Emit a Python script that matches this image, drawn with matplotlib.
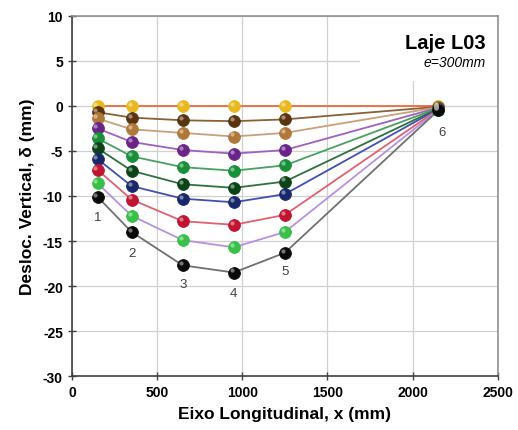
import numpy as np
import matplotlib
matplotlib.use('Agg')
import matplotlib.pyplot as plt
import matplotlib.transforms as mtransforms
from matplotlib.colors import to_rgb
from matplotlib.patches import Rectangle

plt.rcParams['font.family'] = ['Liberation Sans', 'DejaVu Sans']
plt.rcParams['axes.unicode_minus'] = False

# Posicoes dos pontos de medicao (mm)
x_pts = [150, 350, 650, 950, 1250, 2150]

# Deslocamentos por etapa de carga (mm)
d_etapas = [
    [0.0, 0.0, 0.0, 0.0, 0.0, 0.0],
    [-0.7, -1.3, -1.6, -1.7, -1.5, -0.1],
    [-1.4, -2.6, -3.0, -3.4, -3.0, -0.15],
    [-2.5, -4.0, -4.9, -5.3, -4.9, -0.2],
    [-3.6, -5.6, -6.8, -7.2, -6.6, -0.25],
    [-4.7, -7.2, -8.7, -9.1, -8.4, -0.3],
    [-5.9, -8.9, -10.3, -10.7, -9.8, -0.35],
    [-7.1, -10.4, -12.8, -13.2, -12.1, -0.4],
    [-8.6, -12.2, -14.9, -15.7, -14.0, -0.45],
    [-10.1, -14.0, -17.7, -18.5, -16.3, -0.5],
]

cores_linha = ['#ee6a3c', '#8a6038', '#c8a07a', '#a060c0', '#4aa060', '#2e7040',
               '#4050b0', '#e06070', '#b890e0', '#707070']
cores_marca = ['#e8b820', '#5a3410', '#b07838', '#6a2488', '#189038', '#0c4418',
               '#18286a', '#c01430', '#38c048', '#0a0a0a']

# Rotulos dos pontos
rot_txt = ['1', '2', '3', '4', '5', '6']
rot_x = [150, 350, 650, 950, 1250, 2170]
rot_y = [-12.3, -16.3, -19.8, -20.8, -18.3, -2.9]

fig = plt.figure(figsize=(5.18, 4.31), dpi=100)
ax = fig.add_axes([0.139, 0.125, 0.822, 0.836])

# brilho das esferas
desloc = ax.transData + mtransforms.ScaledTranslation(-1.5 / 72, 1.5 / 72, fig.dpi_scale_trans)

for d, cl, cm in zip(d_etapas, cores_linha, cores_marca):
    ax.plot(x_pts, d, '-', color=cl, lw=1.3, zorder=3)
    ax.plot(x_pts, d, 'o', color=cm, ms=8.5, mec=cm, mew=0.6, zorder=4)
    claro = tuple(0.45 * c + 0.55 for c in to_rgb(cm))
    ax.plot(x_pts, d, 'o', color=claro, ms=3, mew=0, alpha=0.8, zorder=4.5, transform=desloc)

for t, xx, yy in zip(rot_txt, rot_x, rot_y):
    ax.text(xx, yy, t, ha='center', va='center', fontsize=9.5, color='#404040', zorder=5)

ax.set_xlim(0, 2500)
ax.set_ylim(-30, 10)
ax.set_xticks(np.arange(0, 2501, 500))
ax.set_yticks(np.arange(-30, 11, 5))
ax.grid(True, color='#d0d0d0', lw=0.9, zorder=0)
ax.set_axisbelow(True)

# caixa branca atras do titulo
ax.add_patch(Rectangle((1690, 2.8), 810, 7.2, facecolor='white', edgecolor='none', zorder=1))
ax.text(2430, 7.0, 'Laje L03', ha='right', va='center', fontsize=14.5, fontweight='bold', zorder=2)
ax.text(2430, 4.9, 'e=300mm', ha='right', va='center', fontsize=10, style='italic', zorder=2)

for s in ['left', 'bottom']:
    ax.spines[s].set_color('#404040')
    ax.spines[s].set_linewidth(1.2)
for s in ['top', 'right']:
    ax.spines[s].set_color('#909090')
    ax.spines[s].set_linewidth(1.2)

ax.tick_params(direction='inout', length=6, width=1, colors='#404040', labelcolor='black',
               labelsize=10)
for lb in ax.get_xticklabels() + ax.get_yticklabels():
    lb.set_fontweight('bold')

ax.set_xlabel('Eixo Longitudinal, x (mm)', fontsize=12.5, fontweight='bold', labelpad=5)
ax.set_ylabel('Desloc. Vertical, δ (mm)', fontsize=12.5, fontweight='bold', labelpad=6)

fig.savefig('out.png', dpi=100)
